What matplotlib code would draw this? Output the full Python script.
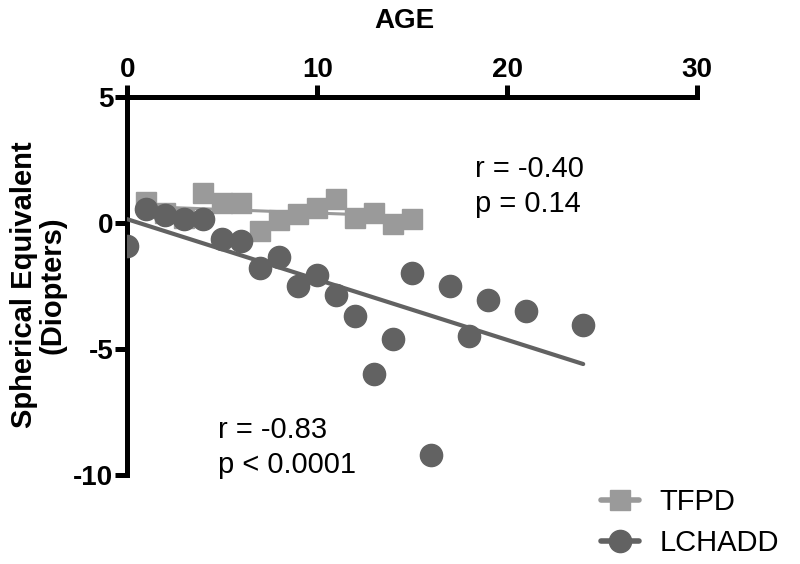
import matplotlib.pyplot as plt

# TFPD (squares)
tfpd_age = [1, 2, 3, 4, 5, 6, 7, 8, 9, 10, 11, 12, 13, 14, 15]
tfpd_se = [0.85, 0.4, 0.2, 1.2, 0.8, 0.8, -0.3, 0.1, 0.35, 0.6, 0.95, 0.2, 0.4, -0.05, 0.15]
tfpd_fit_age = [1, 15]
tfpd_fit_se = [0.65, 0.25]

# LCHADD (circles)
lchadd_age = [0, 1, 2, 3, 4, 5, 6, 7, 8, 9, 10, 11, 12, 13, 14, 15, 16, 17, 18, 19, 21, 24]
lchadd_se = [-0.9, 0.55, 0.3, 0.15, 0.15, -0.65, -0.7, -1.8, -1.35, -2.5, -2.05, -2.85,
             -3.7, -6.0, -4.6, -2.0, -9.2, -2.5, -4.5, -3.05, -3.5, -4.05]
lchadd_fit_age = [0, 24]
lchadd_fit_se = [0.15, -5.6]

xticks = [0, 10, 20, 30]
yticks = [5, 0, -5, -10]

light = '#9a9a9a'
dark = '#626262'

fig = plt.figure(figsize=(8, 5.64), dpi=100)
ax = fig.add_axes([0.159, 0.158, 0.7125, 0.670])

ax.plot(tfpd_fit_age, tfpd_fit_se, color=light, lw=2.2, zorder=2)
ax.plot(tfpd_age, tfpd_se, linestyle='none', marker='s', ms=15, color=light,
        mec=light, zorder=3)
ax.plot(lchadd_fit_age, lchadd_fit_se, color=dark, lw=3, solid_capstyle='round', zorder=4)
ax.plot(lchadd_age, lchadd_se, linestyle='none', marker='o', ms=16, color=dark,
        mec=dark, zorder=5)

ax.set_xlim(0, 30)
ax.set_ylim(-10, 5)
ax.set_xticks(xticks)
ax.set_yticks(yticks)
ax.xaxis.tick_top()

for s in ['bottom', 'right']:
    ax.spines[s].set_visible(False)
for s in ['top', 'left']:
    ax.spines[s].set_linewidth(3.6)
    ax.spines[s].set_capstyle('projecting')

tickfont = {'family': 'Liberation Sans', 'weight': 'bold', 'size': 20}
ax.tick_params(axis='both', direction='out', length=9, width=3.6, pad=1)
ax.set_xticklabels([str(t) for t in xticks], fontdict=tickfont)
ax.set_yticklabels([str(t) for t in yticks], fontdict=tickfont)

fig.text(0.506, 0.962, 'AGE', ha='center', va='center',
         family='Liberation Sans', weight='bold', size=20)
fig.text(0.048, 0.495, 'Spherical Equivalent\n(Diopters)', ha='center', va='center',
         rotation=90, family='Liberation Sans', weight='bold', size=21, linespacing=1.05)

ax.text(0.594, 0.725, 'r = -0.40\np = 0.14', transform=fig.transFigure,
        family='Liberation Sans', size=21, linespacing=1.3, va='top')
ax.text(0.272, 0.262, 'r = -0.83\np < 0.0001', transform=fig.transFigure,
        family='Liberation Sans', size=21, linespacing=1.3, va='top')

h1, = ax.plot([], [], color=light, lw=4, marker='s', ms=15, solid_capstyle='round')
h2, = ax.plot([], [], color=dark, lw=4, marker='o', ms=16, solid_capstyle='round')
fig.legend([h1, h2], ['TFPD', 'LCHADD'], loc='upper left', bbox_to_anchor=(0.737, 0.155),
           frameon=False, prop={'family': 'Liberation Sans', 'size': 21},
           handlelength=1.3, handletextpad=0.7, labelspacing=0.45, borderaxespad=0)

fig.savefig('out.png', dpi=100)
